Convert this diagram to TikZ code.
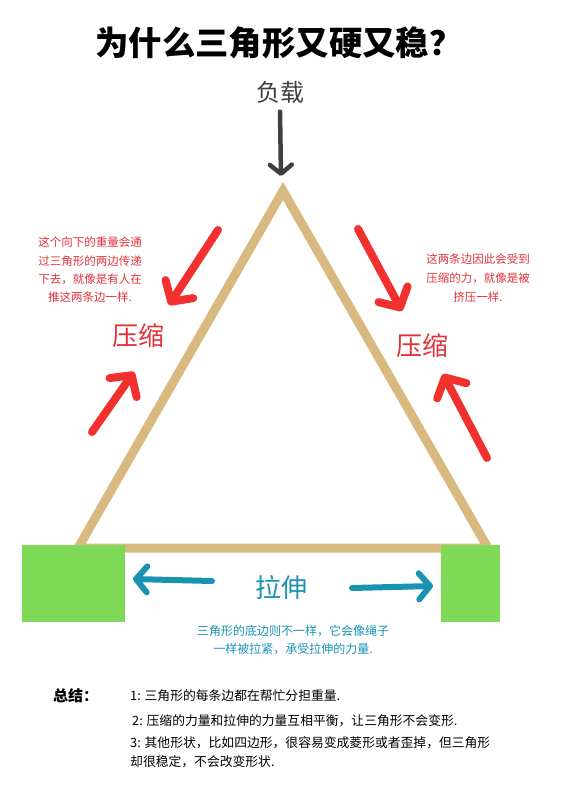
\documentclass[tikz,border=0pt]{standalone}
\usepackage{fontspec}
\setmainfont{Noto Sans CJK SC}
\usepackage{tikz}
\usetikzlibrary{arrows.meta}
\definecolor{beamcol}{HTML}{D8B97F}
\definecolor{pushred}{HTML}{F2302E}
\definecolor{textred}{HTML}{E2323A}
\definecolor{pullblue}{HTML}{1A93B3}
\definecolor{padgreen}{HTML}{7ED957}
\definecolor{loadgrey}{HTML}{3F3F3F}

\begin{document}
\begin{tikzpicture}[x=1pt,y=-1pt]
\tikzstyle{beam}=[draw=beamcol, line width=9pt, line join=miter]
\tikzstyle{pad}=[fill=padgreen, inner sep=0pt, minimum height=77pt]
\tikzstyle{push}=[draw=pushred, line width=8pt, line cap=round, -{Straight Barb[length=15pt,width=33pt,round]}]
\tikzstyle{pull}=[draw=pullblue, line width=6pt, line cap=round, -{Straight Barb[length=11pt,width=26pt,round]}]
\tikzstyle{note}=[align=center, inner sep=0pt]
\tikzstyle{summary}=[anchor=west, inner sep=0pt, font=\fontsize{12.8}{19}\selectfont]
\useasboundingbox (0,0) rectangle (565,800);
\fill[white] (0,0) rectangle (565,800);

% title and load
\node[font=\fontsize{33.4}{33.4}\selectfont\bfseries] (title) at (279,43) {为什么三角形又硬又稳？};
\node[font=\fontsize{24}{24}\selectfont, text=loadgrey] (load) at (280,92) {负载};

% the triangle
\coordinate (top) at (283,191);
\coordinate (bl) at (78,548);
\coordinate (br) at (488,548);
\draw[beam] (top) -- (bl) -- (br) -- cycle;

\node[pad, minimum width=103pt] (padL) at (73.5,583.5) {};
\node[pad, minimum width=59pt] (padR) at (470.5,583.5) {};

\coordinate (loadtip) at (281,176);
\draw[draw=loadgrey, line width=4.5pt, line cap=round, -{Straight Barb[length=9pt,width=22pt,round]}]
	(load.south) ++(0,5) -- (loadtip);

% compression
\coordinate (lu1) at (218,230);
\coordinate (lu2) at (169,305);
\coordinate (ll1) at (92,432);
\coordinate (ll2) at (134,372);
\coordinate (ru1) at (358,229);
\coordinate (ru2) at (402,311);
\coordinate (rl1) at (487,458);
\coordinate (rl2) at (443,374);
\draw[push] (lu1) -- (lu2);
\draw[push] (ll1) -- (ll2);
\draw[push] (ru1) -- (ru2);
\draw[push] (rl1) -- (rl2);

\node[text=textred, font=\fontsize{26}{26}\selectfont] (compL) at (138,336) {压缩};
\node[text=textred, font=\fontsize{26}{26}\selectfont] (compR) at (422,346) {压缩};

\node[note, text=textred, font=\fontsize{11.5}{18.3}\selectfont] (noteL) at (90,270)
	{这个向下的重量会通\\过三角形的两边传递\\下去，就像是有人在\\推这两条边一样.};
\node[note, text=textred, font=\fontsize{11.5}{19}\selectfont] (noteR) at (478,278)
	{这两条边因此会受到\\压缩的力，就像是被\\挤压一样.};

% tension
\node[text=pullblue, font=\fontsize{26}{26}\selectfont] (tens) at (281,588) {拉伸};
\coordinate (bl1) at (212,581);
\coordinate (bl2) at (133,579);
\coordinate (br1) at (352,588);
\coordinate (br2) at (433,586);
\draw[pull] (bl1) -- (bl2);
\draw[pull] (br1) -- (br2);

\node[note, text=pullblue, font=\fontsize{12}{17.5}\selectfont] (noteB) at (293,640)
	{三角形的底边则不一样，它会像绳子\\一样被拉紧，承受拉伸的力量.};

% summary
\node[anchor=west, inner sep=0pt, font=\fontsize{15}{15}\selectfont\bfseries] (sum) at (53,696) {总结：};
\node[summary] (sum1) at (130,696) {1: 三角形的每条边都在帮忙分担重量.};
\node[summary] (sum2) at (132,721) {2: 压缩的力量和拉伸的力量互相平衡，让三角形不会变形.};
\node[summary, align=left] (sum3) at (130,752.5)
	{3: 其他形状，比如四边形，很容易变成菱形或者歪掉，但三角形\\却很稳定，不会改变形状.};

\end{tikzpicture}
\end{document}
